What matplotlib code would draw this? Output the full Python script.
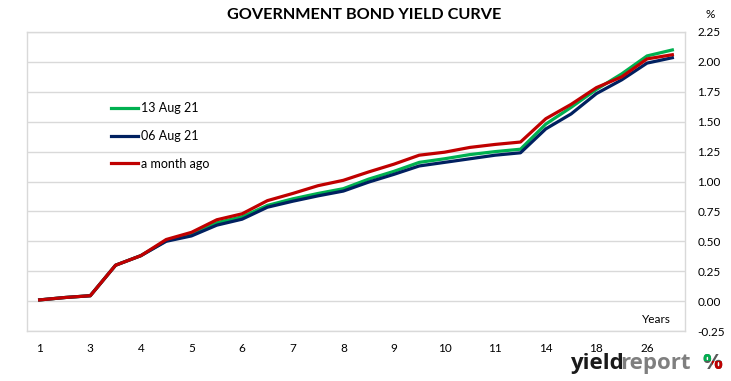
import matplotlib
matplotlib.use("Agg")
import matplotlib.pyplot as plt
from matplotlib.patches import Rectangle
from matplotlib.transforms import IdentityTransform
import numpy as np

plt.rcParams["font.family"] = ["Lato", "DejaVu Sans"]

# maturity buckets (years); only every second one is labelled on the axis
maturities = ["1", "2", "3", "3", "4", "4", "5", "5", "6", "6", "7", "7", "8",
              "8", "9", "9", "10", "10", "11", "12", "14", "16", "18", "20",
              "26", "30"]

yield_13aug = [0.01, 0.03, 0.045, 0.30, 0.38, 0.505, 0.56, 0.655, 0.705, 0.80,
               0.855, 0.90, 0.94, 1.02, 1.085, 1.16, 1.19, 1.225, 1.25, 1.27,
               1.48, 1.62, 1.77, 1.90, 2.05, 2.10]
yield_06aug = [0.01, 0.03, 0.045, 0.30, 0.38, 0.50, 0.545, 0.635, 0.685, 0.785,
               0.835, 0.88, 0.92, 0.995, 1.06, 1.13, 1.16, 1.19, 1.22, 1.24,
               1.44, 1.565, 1.735, 1.85, 1.99, 2.035]
yield_month_ago = [0.01, 0.03, 0.045, 0.30, 0.38, 0.515, 0.575, 0.68, 0.73, 0.84,
                   0.90, 0.965, 1.01, 1.08, 1.145, 1.22, 1.245, 1.285, 1.31, 1.33,
                   1.525, 1.645, 1.785, 1.875, 2.025, 2.06]

series = [
    ("13 Aug 21", yield_13aug, "#00B050"),
    ("06 Aug 21", yield_06aug, "#002060"),
    ("a month ago", yield_month_ago, "#C00000"),
]

W, H = 731, 381
fig = plt.figure(figsize=(W / 100, H / 100), dpi=100)
ax = fig.add_axes([27 / W, (H - 331) / H, 658 / W, 299 / H])

x = np.arange(len(maturities))
for name, vals, col in series:
    ax.plot(x, vals, color=col, lw=2.3, label=name, solid_joinstyle="round")

ax.set_xlim(-0.5, len(maturities) - 0.5)
ax.set_ylim(-0.25, 2.25)
ax.set_yticks(np.arange(-0.25, 2.26, 0.25))
ax.yaxis.set_major_formatter(matplotlib.ticker.FormatStrFormatter("%.2f"))
ax.yaxis.tick_right()
ax.set_xticks(x[::2])
ax.set_xticklabels(maturities[::2])
ax.tick_params(axis="both", length=0, labelsize=8.5, colors="black")
ax.tick_params(axis="y", pad=9)
ax.tick_params(axis="x", pad=9)
ax.grid(axis="y", color="#D9D9D9", lw=1)
ax.set_axisbelow(True)
for sp in ax.spines.values():
    sp.set_color("#D9D9D9")
    sp.set_linewidth(1)

ax.text(0.978, 0.037, "Years", transform=ax.transAxes, ha="right", va="center",
        fontsize=8.5)

leg = ax.legend(loc="center left", bbox_to_anchor=(0.127, 0.652), frameon=False,
                fontsize=9, handlelength=2.2, handletextpad=0.2,
                labelspacing=1.25, borderpad=0, borderaxespad=0)

fig.text(0.498, 1 - 15 / H, "GOVERNMENT BOND YIELD CURVE", ha="center", va="center",
         fontsize=11.7, fontweight="bold")
fig.text(710 / W, 1 - 14 / H, "%", ha="center", va="center", fontsize=8.5)

# logo: "yield" dark, "report" grey, then "%" with green/red dots
logo_font = dict(fontsize=16, fontweight="bold", family="Open Sans")
base_px = 12  # baseline, pixels from bottom
base_y = base_px / H
t1 = fig.text(570 / W, base_y, "yield", ha="left", va="baseline",
              color="#1a1a1a", **logo_font)
fig.canvas.draw()
bb = t1.get_window_extent()
fig.text((bb.x1 - 3) / W, base_y, "report", ha="left", va="baseline",
         color="#7f7f7f", **logo_font)

pct_x = 702 / W
p0 = fig.text(pct_x, base_y, "%", ha="left", va="baseline", color="#595959",
              **logo_font)
fig.canvas.draw()
pb = p0.get_window_extent()
mid_y = base_px + 8
for col, rect in [
    ("#00B050", (pb.x0 - 2, mid_y, pb.width * 0.5 + 2, 30)),
    ("#C00000", (pb.x0 + pb.width * 0.5, 0, pb.width, mid_y)),
]:
    t = fig.text(pct_x, base_y, "%", ha="left", va="baseline", color=col,
                 **logo_font)
    clip = Rectangle(rect[:2], rect[2], rect[3], transform=IdentityTransform())
    t.set_clip_path(clip)

fig.savefig("out.png", dpi=100)
